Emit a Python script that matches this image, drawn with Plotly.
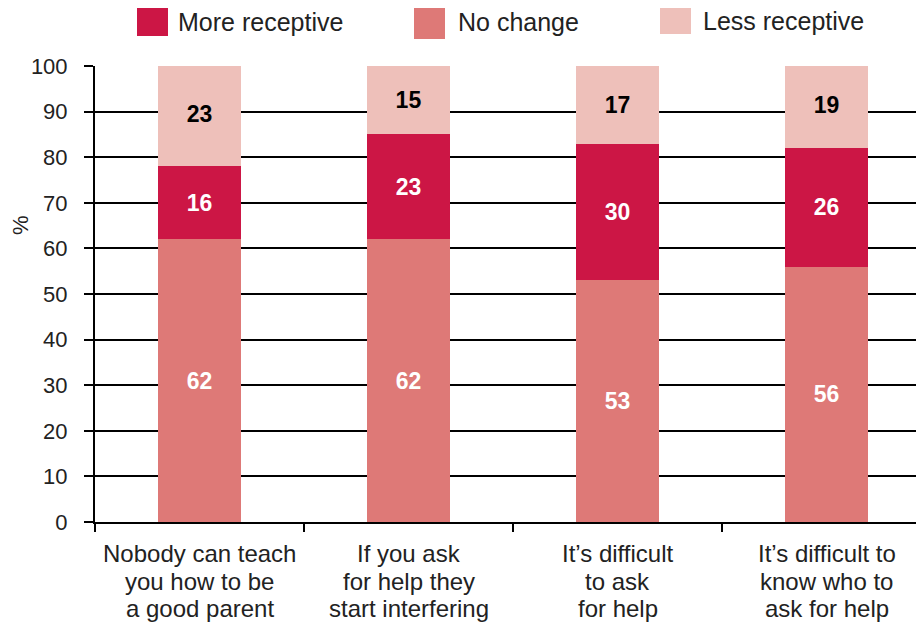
import plotly.graph_objects as go

categories = [
    "Nobody can teach<br>you how to be<br>a good parent",
    "If you ask<br>for help they<br>start interfering",
    "It’s difficult<br>to ask<br>for help",
    "It’s difficult to<br>know who to<br>ask for help",
]
no_change = [62, 62, 53, 56]
more_receptive = [16, 23, 30, 26]
less_receptive = [23, 15, 17, 19]

series_names = ["More receptive", "No change", "Less receptive"]
colors = {"More receptive": "#CC1645", "No change": "#DE7977", "Less receptive": "#EEC0BA"}
text_colors = {"More receptive": "white", "No change": "white", "Less receptive": "black"}

FONT = "Liberation Sans, Arial, sans-serif"
OFF = 8  # page body margin
W, H = 924 - OFF, 622 - OFF
# plot area in reference pixels: x 95..924, y 66..522
PL, PR, PT, PB = 95, 924, 66, 522
ML, MR, MT, MB = PL - OFF, W - (PR - OFF), PT - OFF, H - (PB - OFF)

fig = go.Figure()
for name, vals in [("No change", no_change), ("More receptive", more_receptive), ("Less receptive", less_receptive)]:
    fig.add_trace(go.Bar(
        x=categories, y=vals, name=name,
        marker=dict(color=colors[name], line=dict(width=0)),
        width=0.4,
        text=vals, texttemplate="<b>%{text}</b>",
        textposition="inside", insidetextanchor="middle", textangle=0,
        constraintext="none",
        textfont=dict(family=FONT, size=23, color=text_colors[name]),
        showlegend=False,
    ))

pw = PR - PL
ph = PB - PT
def px_x(p):
    return (p - PL) / pw
def px_y(p):
    return (PB - p) / ph

# manual legend
legend_pos = {
    "More receptive": (137, 5, 178, 22),
    "No change": (414, 8, 458, 22),
    "Less receptive": (660, 3, 703, 21),
}
for name in series_names:
    x0, y0, tx, ty = legend_pos[name]
    fig.add_shape(type="rect", xref="paper", yref="paper",
                  x0=px_x(x0), x1=px_x(x0 + 31), y0=px_y(y0), y1=px_y(y0 + 31),
                  fillcolor=colors[name], line=dict(width=0))
    fig.add_annotation(xref="paper", yref="paper", x=px_x(tx), y=px_y(ty),
                       xanchor="left", yanchor="middle", text=name, showarrow=False,
                       borderpad=0, borderwidth=0,
                       font=dict(family=FONT, size=25, color="#222222"))

fig.add_annotation(xref="paper", yref="paper", x=px_x(20), y=px_y(225),
                   text="%", textangle=-90, showarrow=False,
                   xanchor="center", yanchor="middle",
                   font=dict(family=FONT, size=22, color="#222222"))

# category labels, one annotation per line for tight line spacing
line_y = [553, 581, 608]
for i, cat in enumerate(categories):
    for j, line in enumerate(cat.split("<br>")):
        fig.add_annotation(xref="x", yref="paper", x=i, y=px_y(line_y[j]),
                           text=line, showarrow=False,
                           xanchor="center", yanchor="middle",
                           borderpad=0, borderwidth=0,
                           font=dict(family=FONT, size=24, color="#222222"))

fig.update_layout(
    barmode="stack",
    width=W, height=H,
    margin=dict(l=ML, r=MR, t=MT, b=MB, pad=0),
    paper_bgcolor="white", plot_bgcolor="white",
    font=dict(family=FONT, color="#222222"),
)
fig.update_xaxes(
    type="category",
    range=[-0.5, -0.5 + pw / 209.0],
    tickson="boundaries", ticks="outside", ticklen=8, tickwidth=2, tickcolor="black",
    showline=True, linecolor="black", linewidth=2,
    showgrid=False, showticklabels=False,
)
fig.update_yaxes(
    range=[0, 100], dtick=10,
    ticks="outside", ticklen=9, tickwidth=2, tickcolor="black",
    showline=True, linecolor="black", linewidth=2,
    showgrid=True, gridcolor="black", gridwidth=2,
    zeroline=False,
    ticklabelstandoff=12,
    tickfont=dict(family=FONT, size=22, color="#222222"),
)

fig.write_html("out.html")
